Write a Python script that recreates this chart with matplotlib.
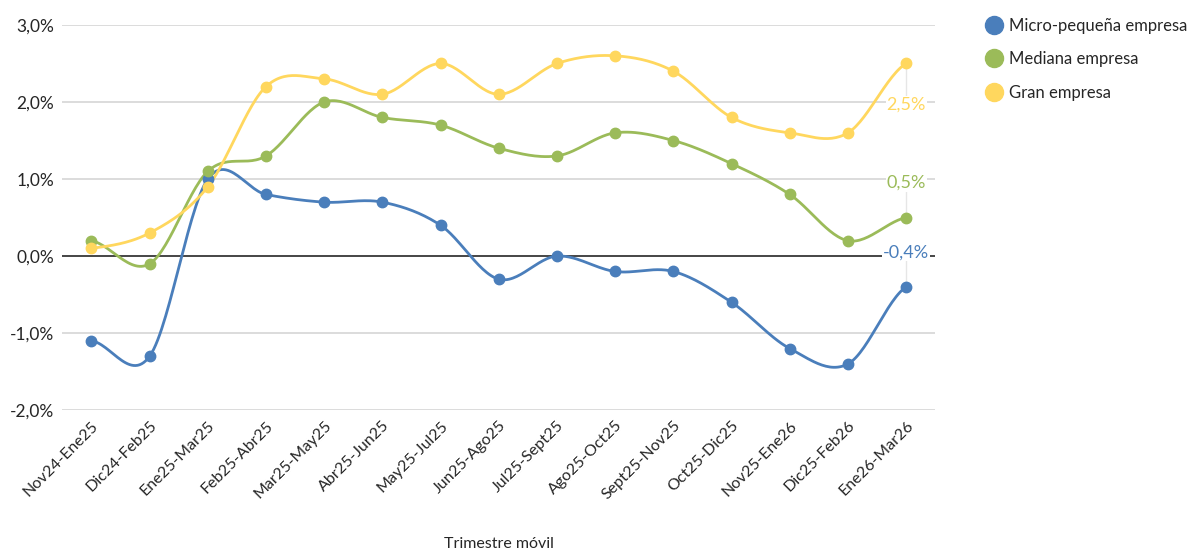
import numpy as np
import matplotlib.pyplot as plt
from matplotlib.lines import Line2D

periodos = ["Nov24-Ene25", "Dic24-Feb25", "Ene25-Mar25", "Feb25-Abr25", "Mar25-May25",
            "Abr25-Jun25", "May25-Jul25", "Jun25-Ago25", "Jul25-Sept25", "Ago25-Oct25",
            "Sept25-Nov25", "Oct25-Dic25", "Nov25-Ene26", "Dic25-Feb26", "Ene26-Mar26"]
micro = [-1.1, -1.3, 1.0, 0.8, 0.7, 0.7, 0.4, -0.3, 0.0, -0.2, -0.2, -0.6, -1.2, -1.4, -0.4]
mediana = [0.2, -0.1, 1.1, 1.3, 2.0, 1.8, 1.7, 1.4, 1.3, 1.6, 1.5, 1.2, 0.8, 0.2, 0.5]
gran = [0.1, 0.3, 0.9, 2.2, 2.3, 2.1, 2.5, 2.1, 2.5, 2.6, 2.4, 1.8, 1.6, 1.6, 2.5]

nombres = ["Micro-pequeña empresa", "Mediana empresa", "Gran empresa"]
colores = ["#4A7EBB", "#9BBB59", "#FFD75E"]
# etiquetas de la ultima observacion (posicion vertical de la etiqueta)
pos_etiqueta = [0.05, 0.95, 1.96]

plt.rcParams['font.family'] = ['Lato', 'DejaVu Sans']


def suavizar(y, n=30):
    # curva tipo Catmull-Rom que pasa por todos los puntos
    y = np.asarray(y, dtype=float)
    x = np.arange(len(y), dtype=float)
    px = np.concatenate([[2 * x[0] - x[1]], x, [2 * x[-1] - x[-2]]])
    py = np.concatenate([[y[0]], y, [y[-1]]])
    xs, ys = [], []
    t = np.linspace(0, 1, n)
    for i in range(1, len(px) - 2):
        p0, p1, p2, p3 = py[i - 1], py[i], py[i + 1], py[i + 2]
        q0, q1, q2, q3 = px[i - 1], px[i], px[i + 1], px[i + 2]
        c1y, c2y = p1 + (p2 - p0) / 6, p2 - (p3 - p1) / 6
        c1x, c2x = q1 + (q2 - q0) / 6, q2 - (q3 - q1) / 6
        b = [(1 - t) ** 3, 3 * (1 - t) ** 2 * t, 3 * (1 - t) * t ** 2, t ** 3]
        xs.append(b[0] * q1 + b[1] * c1x + b[2] * c2x + b[3] * q2)
        ys.append(b[0] * p1 + b[1] * c1y + b[2] * c2y + b[3] * p2)
    return np.concatenate(xs), np.concatenate(ys)


fig = plt.figure(figsize=(11.99, 5.55), dpi=100)
ax = fig.add_axes([0.052, 0.261, 0.728, 0.694])

for v in [-2, -1, 1, 2, 3]:
    ax.axhline(v, color="#D9D9D9", lw=1.3, zorder=0)
ax.axhline(0, color="#262626", lw=1.2, zorder=1)

x = np.arange(len(periodos))
for serie, color in zip([micro, mediana, gran], colores):
    xs, ys = suavizar(serie)
    ax.plot(xs, ys, color=color, lw=2.0, zorder=3)
    ax.plot(x, serie, 'o', color=color, ms=7.5, zorder=4)

for serie, color, ypos in zip([micro, mediana, gran], colores, pos_etiqueta):
    ax.plot([x[-1], x[-1]], [ypos, serie[-1]], color="#E6E6E6", lw=1, zorder=2)
    txt = f"{serie[-1]:.1f}%".replace(".", ",")
    ax.text(x[-1], ypos, txt, color=color, fontsize=13, ha="center", va="center",
            zorder=5, bbox=dict(facecolor="white", edgecolor="none", pad=0.5))

ax.set_xlim(-0.5, len(periodos) - 0.5)
ax.set_ylim(-2, 3)
ax.set_yticks([-2, -1, 0, 1, 2, 3])
ax.set_yticklabels([f"{v:.1f}%".replace(".", ",") for v in [-2, -1, 0, 1, 2, 3]],
                   fontsize=12.5, color="#262626")
ax.set_xticks(x)
ax.set_xticklabels(periodos, rotation=45, ha="right", rotation_mode="anchor",
                   fontsize=11.5, color="#262626")
ax.tick_params(length=0, pad=6)
for s in ax.spines.values():
    s.set_visible(False)

ax.set_xlabel("Trimestre móvil", fontsize=11.5, color="#262626")
ax.xaxis.set_label_coords(0.5, -0.33)

handles = [Line2D([], [], marker='o', ls='none', color=c, ms=13) for c in colores]
fig.legend(handles, nombres, loc="upper left", bbox_to_anchor=(0.807, 0.995),
           frameon=False, fontsize=12, labelspacing=1.05, handletextpad=0.2,
           handlelength=1.4, labelcolor="#262626")

fig.savefig("out.png", dpi=100)
